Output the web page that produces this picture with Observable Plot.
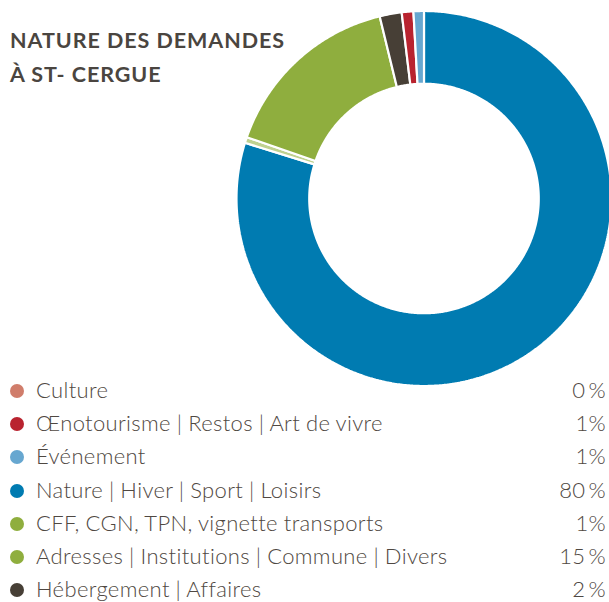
<!DOCTYPE html>
<html>
<head>
<meta charset="utf-8">
<script src="https://cdn.jsdelivr.net/npm/d3@7"></script>
<script src="https://cdn.jsdelivr.net/npm/@observablehq/plot@0.6"></script>
<style>
  html, body { margin: 0; padding: 0; background: #fff; width: 609px; height: 602px; overflow: hidden; }
  #wrap { position: relative; width: 609px; height: 602px; }
  #title { position: absolute; left: 10px; top: 23px; font-family: Lato, sans-serif; font-weight: 700; font-size: 21.5px; line-height: 34px; color: #4a4540; letter-spacing: 0.95px; }
  #chart { position: absolute; left: 0; top: 0; }
  #legend { position: absolute; left: 0; top: 374px; width: 609px; font-family: Lato, sans-serif; font-weight: 300; font-size: 22px; letter-spacing: 0.35px; word-spacing: -0.5px; color: #4f4842; }
  .row { position: relative; height: 33.2px; }
  .dot { position: absolute; left: 10px; top: 10px; width: 14px; height: 14px; border-radius: 50%; }
  .lab { position: absolute; left: 36px; top: 2px; white-space: nowrap; }
  .pct { position: absolute; right: 3px; top: 2px; white-space: nowrap; }
</style>
</head>
<body>
<div id="wrap">
  <div id="chart"></div>
  <div id="title">NATURE DES DEMANDES<br>À ST- CERGUE</div>
  <div id="legend"></div>
</div>
<script>
const categories = [
  "Culture",
  "Œnotourisme | Restos | Art de vivre",
  "Événement",
  "Nature | Hiver | Sport | Loisirs",
  "CFF, CGN, TPN, vignette transports",
  "Adresses | Institutions | Commune | Divers",
  "Hébergement | Affaires"
];
const values = [0, 1.0, 0.9, 79.8, 0.5, 15.9, 1.9];
const percentLabels = ["0\u2009%", "1%", "1%", "80\u2009%", "1%", "15\u2009%", "2\u2009%"];
const colors = ["#d07d6b", "#b9232f", "#67a7d0", "#007bb1", "#8fae3e", "#8fae3e", "#473f36"];
const sliceColors = ["#d07d6b", "#b9232f", "#67a7d0", "#007bb1", "#bfd190", "#8fae3e", "#473f36"];
const drawOrder = [3, 4, 5, 6, 0, 1, 2];

// build donut slice polygons (in unit coordinates) from the values
const innerRatio = 0.612;
const total = d3.sum(values);
const pts = [];
let acc = 0;
for (const i of drawOrder) {
  const a0 = acc / total * 2 * Math.PI;
  acc += values[i];
  const a1 = acc / total * 2 * Math.PI;
  if (values[i] <= 0) continue;
  const n = Math.max(2, Math.ceil((a1 - a0) / (Math.PI / 360)));
  const poly = [];
  for (let k = 0; k <= n; k++) { const a = a0 + (a1 - a0) * k / n; poly.push([Math.sin(a), Math.cos(a)]); }
  for (let k = n; k >= 0; k--) { const a = a0 + (a1 - a0) * k / n; poly.push([innerRatio * Math.sin(a), innerRatio * Math.cos(a)]); }
  poly.push(poly[0]);
  poly.forEach(([x, y]) => pts.push({key: String(i), x, y}));
}

const plot = Plot.plot({
  width: 609,
  height: 392,
  margin: 0,
  x: {domain: [-1, 1], range: [236, 611], axis: null},
  y: {domain: [-1, 1], range: [385.5, 10.5], axis: null},
  color: {domain: categories.map((_, i) => String(i)), range: sliceColors},
  marks: [
    Plot.line(pts, {x: "x", y: "y", z: "key", fill: "key", stroke: "white", strokeWidth: 2.2, strokeLinejoin: "miter"})
  ]
});
plot.style.overflow = "visible";
document.getElementById("chart").appendChild(plot);

const legend = document.getElementById("legend");
categories.forEach((c, i) => {
  const row = document.createElement("div");
  row.className = "row";
  row.innerHTML = `<span class="dot" style="background:${colors[i]}"></span><span class="lab">${c}</span><span class="pct">${percentLabels[i]}</span>`;
  legend.appendChild(row);
});
</script>
</body>
</html>
